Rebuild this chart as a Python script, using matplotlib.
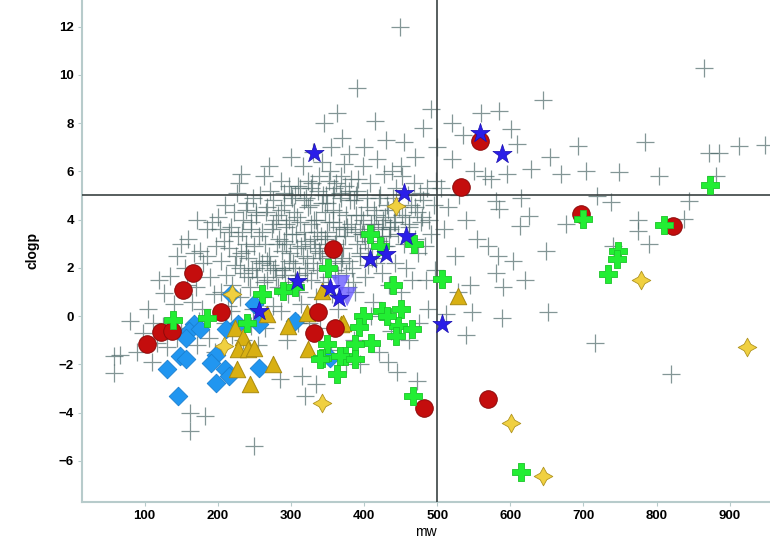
import numpy as np
import matplotlib
matplotlib.use("Agg")
import matplotlib.pyplot as plt

# other compounds (grey crosses)
other_mw = [58, 67, 58, 80, 98, 112, 117, 90, 125, 105, 126, 120, 130, 110,
            135, 144, 176, 140, 150, 155, 160, 165, 170, 175, 180, 185, 190, 195, 198, 162, 183, 162, 172, 188,
            145, 158, 168, 192, 178, 150, 196, 185, 172, 200,
            205, 205, 208, 210, 212, 214, 216, 218, 220, 222, 224, 226, 228, 230, 232, 234, 236, 238, 240, 242,
            244, 246, 248, 250, 252, 254, 256, 258, 260, 210, 220, 235, 245, 255, 249, 229, 215, 233, 241, 253,
            225, 238, 203, 218, 248, 232,
            262, 264, 266, 268, 270, 272, 274, 276, 278, 280, 282, 284, 286, 288, 290, 292, 294, 296, 298, 300,
            302, 304, 306, 308, 310, 312, 314, 316, 318, 320, 285, 315, 319, 265, 295, 310, 270, 300, 290, 275,
            305, 281, 267, 297, 311, 287, 263, 276, 293, 316,
            322, 324, 326, 328, 330, 332, 334, 336, 338, 340, 342, 344, 346, 348, 350, 352, 354, 356, 358, 360,
            362, 364, 366, 368, 370, 372, 374, 376, 378, 380, 363, 391, 345, 330, 355, 370, 325, 340, 355, 375,
            335, 365, 350, 333, 361, 377, 347, 327, 343, 369, 357, 323, 379,
            382, 384, 386, 388, 390, 392, 394, 396, 398, 400, 402, 404, 406, 408, 410, 412, 414, 416, 418, 420,
            422, 424, 426, 428, 430, 432, 434, 436, 438, 440, 449, 415, 430, 400, 386, 395, 420, 410, 437, 433,
            395, 425, 405, 389,
            442, 444, 446, 448, 450, 452, 454, 456, 458, 460, 462, 464, 466, 468, 470, 472, 474, 476, 478, 480,
            483, 486, 489, 492, 495, 498, 455, 480, 470, 492, 450, 462, 475, 488, 445, 473, 497, 485,
            505, 510, 515, 520, 525, 530, 535, 540, 547, 550, 555, 560, 566, 569, 574, 581, 583, 585, 585, 588,
            590, 595, 603, 581, 545, 528, 512, 520, 500, 540,
            601, 609, 613, 615, 626, 628, 644, 649, 651, 654, 669, 676, 692, 704, 716, 719, 737, 749, 774, 774,
            784, 803, 820, 838, 844, 865, 872, 881, 885, 912, 948, 620, 740, 790,
            # dense core
            287, 293, 301, 309, 318, 326, 334, 341, 349, 357, 366, 373, 381, 389, 397, 404, 413, 421, 429, 436,
            291, 299, 307, 314, 322, 331, 339, 347, 354, 362, 371, 379, 387, 394, 402, 411, 419, 427, 434, 443,
            246, 253, 261, 268, 275, 283, 291, 298, 306, 313, 321, 329, 337, 344, 352, 359, 367, 374, 382, 391,
            231, 239, 247, 256, 263, 271, 279, 288, 296, 303, 311, 319, 327, 336, 343, 351, 360, 368, 376, 385,
            398, 407, 416, 424, 433, 441, 452, 461, 470, 479]
other_clogp = [-1.66, -1.63, -2.35, -0.2, -0.7, -0.27, -1.1, -1.5, -0.4, 0.3, 0.97, 1.5, -1.3, -1.9,
               1.66, 2.49, 2.69, 0.5, -0.5, 2.0, 3.2, 0.6, 1.2, -0.2, 2.2, 3.6, 1.6, 0.9, 2.9, -4.0, -4.14, -4.77, 4.0, -0.9,
               -0.9, 1.3, 2.6, 3.9, 0.3, 3.0, -1.5, 2.5, -1.2, 4.1,
               1.0, 2.3, 3.1, 4.6, 1.7, 0.4, 2.8, 3.7, 1.3, 4.3, 2.1, 5.1, 3.3, 0.8, 2.6, 4.0, 1.8, 3.0, 4.7, 2.4,
               1.2, 3.6, 0.3, 2.9, 4.2, 1.6, 3.3, 5.0, 2.2, -0.3, -0.8, -1.0, -0.4, -1.2, -5.39, 5.5, 3.5, 3.5, 1.6, 2.0,
               2.5, 4.4, 3.6, 0.2, 4.9, 5.9,
               0.8, 3.0, 4.3, 1.5, 2.5, 5.2, 3.6, 0.4, 2.0, 4.0, 1.2, 3.2, 5.6, 2.7, 4.6, 1.7, 3.8, 0.9, 2.3, 5.0,
               3.4, 4.3, 1.4, 2.8, 5.4, 3.9, 0.5, 2.5, 4.8, 3.1, -2.62, -2.49, -3.32, -0.5, -1.0, -0.3, 6.2, 6.6, 2.0, 4.8,
               2.0, 3.0, 2.3, 4.0, 1.0, 0.2, 5.8, 1.9, 3.0, 6.2,
               1.8, 4.5, 3.0, 5.3, 2.2, 4.0, 0.8, 3.5, 5.8, 2.6, 4.7, 1.4, 3.2, 5.0, 2.0, 3.9, 6.0, 0.9, 4.4, 3.0,
               5.5, 1.7, 3.7, 4.9, 2.4, 6.3, 3.3, 4.2, 1.2, 5.2, 8.4, 9.47, 8.0, 6.8, 7.0, 7.4, -0.3, -0.5, -1.4, -2.0,
               -2.8, 0.3, 3.5, 2.8, 2.3, 3.7, 4.3, 3.8, 6.4, 5.8, 5.0, 5.6, 6.7,
               3.8, 2.0, 4.8, 1.0, 3.0, 5.7, 2.5, 4.2, 6.2, 3.4, 1.6, 4.9, 2.8, 5.5, 3.8, 0.6, 4.4, 2.2, 6.5, 3.1,
               5.0, 1.8, 4.0, 5.9, 2.9, 4.6, 1.3, 3.6, 6.0, 4.9, 12.0, 8.1, 7.3, 7.0, -1.0, -2.0, -1.5, 0.0, -0.6, -1.9,
               3.6, 3.3, 2.1, 5.0,
               2.2, 5.3, 3.4, 4.5, 1.0, 5.8, 3.0, 4.1, 2.0, 5.0, 3.7, 4.6, 1.5, 5.5, 3.2, 4.3, 2.6, 5.1, 3.9, 4.8,
               2.9, 5.3, 4.0, 3.4, 4.6, 5.6, 7.2, 7.8, 6.6, 8.6, 6.2, -1.0, -0.3, 0.3, -2.3, -2.7, 1.9, 1.5,
               5.3, 3.6, 4.5, 6.5, 2.5, 5.0, 7.5, 4.0, 0.17, 6.0, 3.2, 8.4, 5.8, 2.9, 5.67, 4.77, 2.49, 4.42, 8.5, -0.1,
               1.2, 5.9, 2.28, 1.8, 1.3, 1.0, 0.1, 8.0, 7.0, -0.8,
               7.77, 7.12, 3.73, 4.9, 4.14, 6.1, 8.95, 2.69, 0.18, 6.6, 5.87, 3.8, 7.05, 6.0, -1.1, 4.97, 4.72, 5.98, 4.0, 3.52,
               7.2, 5.8, -2.42, 4.04, 4.77, 10.3, 6.77, 5.8, 6.77, 7.05, 7.1, 1.5, 2.9, 3.0,
               4.4, 3.7, 4.9, 4.1, 3.5, 4.6, 4.0, 3.3, 4.7, 3.9, 4.3, 3.6, 4.8, 4.2, 3.4, 4.5, 3.8, 4.9, 4.1, 3.7,
               3.1, 2.6, 3.4, 2.9, 2.4, 3.2, 2.7, 3.0, 2.5, 3.3, 2.8, 2.3, 3.5, 2.6, 3.1, 2.4, 3.6, 2.9, 3.3, 3.9,
               3.9, 4.3, 3.5, 4.5, 3.8, 4.2, 5.1, 5.4, 5.0, 5.3, 4.9, 5.5, 5.2, 5.0, 5.6, 5.3, 5.1, 5.4, 5.7, 5.2,
               2.0, 2.7, 1.9, 2.3, 1.4, 2.1, 1.6, 1.9, 1.3, 2.2, 1.7, 2.0, 1.5, 1.9, 2.4, 1.6, 1.9, 2.2, 1.8, 1.4,
               4.0, 3.4, 4.2, 3.7, 4.4, 3.9, 4.2, 3.8, 4.5, 4.1]

# red circles
red_mw = [103, 123, 137, 153, 166, 204, 332, 337, 358, 361, 482, 532, 558, 570, 697, 822]
red_clogp = [-1.15, -0.66, -0.64, 1.08, 1.77, 0.15, -0.69, 0.18, 2.76, -0.48, -3.83, 5.33, 7.25, -3.45, 4.21, 3.73]

# green crosses
green_mw = [139, 185, 240, 261, 289, 305, 351, 349, 342, 363, 374, 408, 422, 469, 440, 506, 424, 451,
            399, 393, 446, 465, 444, 431, 410, 387, 367, 387, 340, 467, 873, 810, 747, 746, 733, 700, 614]
green_clogp = [-0.16, -0.07, -0.27, 0.93, 1.04, 1.22, 2.0, -1.17, -1.72, -2.42, -1.66, 3.39, 2.9, 3.0, 1.27, 1.52, 0.21, 0.28,
               0.0, -0.45, -0.41, -0.55, -0.83, 0.0, -1.1, -1.17, -1.66, -1.8, -1.8, -3.32, 5.42, 3.77, 2.69, 2.35, 1.73, 4.04, -6.45]

# blue stars
star_mw = [331, 454, 558, 588, 457, 408, 430, 308, 354, 366, 257, 507]
star_clogp = [6.77, 5.12, 7.6, 6.7, 3.32, 2.35, 2.56, 1.45, 1.18, 0.76, 0.21, -0.34]

# violet down triangles
violet_mw = [368, 377]
violet_clogp = [1.3, 0.8]

# light blue diamonds
diam_mw = [218, 249, 256, 228, 212, 168, 161, 157, 176, 149, 157, 131, 197, 191, 210, 215, 197, 256, 146, 306, 353]
diam_clogp = [0.93, 0.48, -0.34, -0.34, -0.55, -0.34, -0.62, -0.9, -0.55, -1.66, -1.8, -2.18, -1.63, -1.93, -2.18, -2.49,
              -2.76, -2.14, -3.32, -0.2, -1.72]

# yellow triangles
tri_mw = [224, 235, 228, 242, 249, 226, 244, 276, 296, 324, 322, 267, 342, 369, 371, 529]
tri_clogp = [-0.48, -0.85, -1.38, -1.38, -1.31, -2.18, -2.83, -2.0, -0.41, -1.38, 0.11, 0.07, 1.04, -0.34, -0.27, 0.83]

# yellow four-point stars
spark_mw = [208, 219, 342, 444, 924, 601, 644, 779]
spark_clogp = [-1.24, 0.9, -3.59, 4.56, -1.27, -4.42, -6.63, 1.5]

plt.rcParams['font.family'] = ['Liberation Sans', 'DejaVu Sans']

fig = plt.figure(figsize=(7.7, 5.39), dpi=100)
ax = fig.add_axes([0.107, 0.069, 0.893, 0.931])

ax.plot(other_mw, other_clogp, linestyle='none', marker='+', markersize=13, markeredgewidth=0.9,
        color='#4e6a6a', alpha=0.7, zorder=2)

ax.axvline(500, color='#3a4242', lw=1.2, zorder=3)
ax.axhline(5, color='#3a4242', lw=1.2, zorder=3)

ax.scatter(diam_mw, diam_clogp, marker='D', s=90, c='#2196f0', edgecolors='#1a7fd0', linewidths=0.6, zorder=4)
ax.scatter(tri_mw, tri_clogp, marker='^', s=140, c='#d8b012', edgecolors='#a88a10', linewidths=0.7, zorder=4)
ax.scatter(red_mw, red_clogp, marker='o', s=160, c='#c40d0d', edgecolors='#8c0a0a', linewidths=0.7, zorder=5)
ax.scatter(green_mw, green_clogp, marker='P', s=180, c='#22ee33', edgecolors='#1cc42a', linewidths=0.6, zorder=5)
ax.scatter(spark_mw, spark_clogp, marker=(4, 1, 0), s=180, c='#f0d040', edgecolors='#b09420', linewidths=0.6, zorder=5)
ax.scatter(violet_mw, violet_clogp, marker='v', s=190, c='#6a5cff', alpha=0.8, edgecolors='none', zorder=5)
ax.scatter(star_mw, star_clogp, marker='*', s=210, c='#2a1ee8', edgecolors='#1a10b0', linewidths=0.5, zorder=6)

ax.set_xlim(15, 955)
ax.set_ylim(-7.7, 13.1)
ax.set_xticks(range(100, 901, 100))
ax.set_yticks(range(-6, 13, 2))

for s in ['top', 'right']:
    ax.spines[s].set_visible(False)
for s in ['left', 'bottom']:
    ax.spines[s].set_color('#b7cbcb')
    ax.spines[s].set_linewidth(1.5)

ax.tick_params(axis='both', length=3, width=0.8, color='#b7cbcb', labelsize=9.5, pad=3)
for lab in ax.get_xticklabels() + ax.get_yticklabels():
    lab.set_fontweight('bold')

ax.set_xlabel('mw', fontsize=10, labelpad=2)
ax.set_ylabel('clogp', fontsize=10, fontweight='bold', labelpad=14)

fig.savefig('out.png', dpi=100)
